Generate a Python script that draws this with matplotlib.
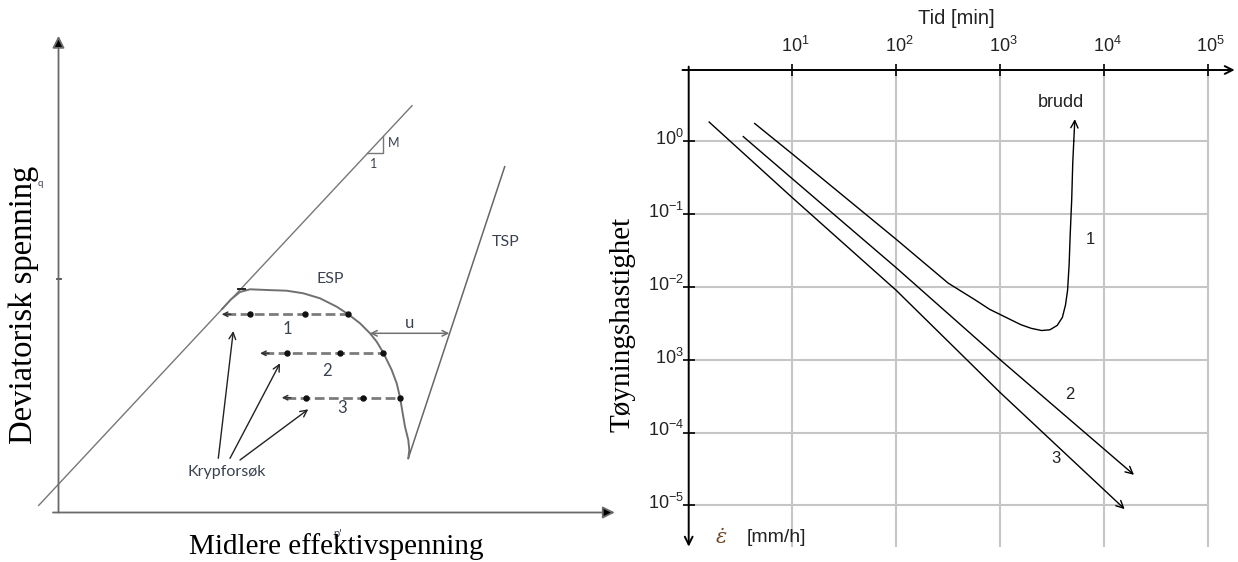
import numpy as np
import matplotlib
matplotlib.use('Agg')
import matplotlib.pyplot as plt
from matplotlib.transforms import blended_transform_factory

plt.rcParams['mathtext.default'] = 'regular'

W, H = 1238, 562

# ---------------- left panel data (schematic stress path, p' and q in arbitrary units)
p_axis_end = 556.3
q_axis_end = 476.7
csl_p = [-19.8, 353.5]
csl_q = [7.1, 406.8]
slope_tri_p = [308.3, 324.9, 324.9]
slope_tri_q = [359.1, 359.1, 376.3]
tsp_p = [349.8, 446.2]
tsp_q = [54.2, 345.8]
esp_p = [163.5, 172.5, 181.5, 191.5, 208.2, 228.2, 244.8, 261.5, 278.2, 289.8, 301.5,
         311.5, 318.2, 324.8, 333.2, 338.2, 341.5, 344.2, 346.5, 349.8, 350.8, 349.8]
esp_q = [203.4, 213.2, 220.5, 223.2, 222.5, 221.8, 219.2, 214.2, 205.8, 198.2, 189.2,
         179.2, 170.8, 159.8, 142.5, 129.2, 115.2, 99.2, 85.8, 72.5, 62.5, 54.2]
creep_q = [198.2, 159.2, 114.8]
creep_start_p = [163.2, 201.5, 223.2]
creep_dots_p = [[191.5, 246.5, 289.8], [228.8, 281.5, 324.8], [247.5, 304.8, 341.5]]
creep_labels = ['1', '2', '3']
creep_label_p = [228.8, 268.2, 283.8]
creep_label_q = [183.2, 141.8, 104.2]
u_q = 179.2
u_p = [311.5, 390.8]
kryp_from_p = [159.8, 171.5, 181.5]
kryp_from_q = [54.2, 54.2, 52.5]
kryp_to_p = [174.8, 221.5, 249.8]
kryp_to_q = [181.5, 149.2, 103.2]

# ---------------- right panel data (creep rate vs time)
time_decades = [10, 100, 1000, 10000, 100000]
time_labels = ['1', '2', '3', '4', '5']
rate_decades = [1, 1e-1, 1e-2, 1e-3, 1e-4, 1e-5]
rate_labels = ['0', '-1', '-2', '3', '-4', '-5']
log_t1 = [0.636, 1.0, 2.0, 2.5, 2.76, 2.9, 3.0, 3.1, 3.2, 3.3, 3.4, 3.48, 3.55, 3.6,
          3.63, 3.65, 3.665, 3.675, 3.69, 3.70, 3.71, 3.72]
log_r1 = [0.24, -0.18, -1.35, -1.95, -2.18, -2.31, -2.38, -2.45, -2.52, -2.57, -2.60,
          -2.59, -2.53, -2.42, -2.25, -2.05, -1.70, -1.30, -0.80, -0.30, 0.00, 0.30]
log_t2 = [0.526, 1.0, 2.0, 3.0, 4.29]
log_r2 = [0.06, -0.52, -1.74, -3.00, -4.58]
log_t3 = [0.197, 1.0, 2.0, 3.0, 4.20]
log_r3 = [0.26, -0.78, -2.05, -3.45, -5.05]

fig = plt.figure(figsize=(W / 100, H / 100), dpi=100)

# ================= LEFT PANEL =================
axL = fig.add_axes([0, 0, 619 / W, 1])
axL.set_xlim(-58.5, 560.5)
axL.set_ylim(-49.5, 512.5)
axL.axis('off')

axcol = '#6a6a6a'
axL.annotate('', xy=(0, q_axis_end), xytext=(0, 0),
             arrowprops=dict(arrowstyle='-|>', color=axcol, lw=1.3, mutation_scale=18,
                             fc='black', ec=axcol, shrinkA=0, shrinkB=0), annotation_clip=False)
axL.annotate('', xy=(p_axis_end, 0), xytext=(-5.5, 0),
             arrowprops=dict(arrowstyle='-|>', color=axcol, lw=1.3, mutation_scale=18,
                             fc='black', ec=axcol, shrinkA=0, shrinkB=0), annotation_clip=False)
axL.plot([-2, 2], [234, 234], color='#333333', lw=1.2)

axL.plot(csl_p, csl_q, color='#777777', lw=1.0)
axL.plot(slope_tri_p, slope_tri_q, color='#777777', lw=1.0)
axL.plot(tsp_p, tsp_q, color='#666666', lw=1.1)
axL.plot(esp_p, esp_q, color='#707070', lw=1.4)
axL.plot([179.5, 186.5], [223.4, 223.4], color='#222222', lw=1.4)

for q, s, dots in zip(creep_q, creep_start_p, creep_dots_p):
    axL.plot([s + 4, dots[-1]], [q, q], color='#7c7c7c', lw=2.0, dashes=(3.5, 1.6))
    axL.plot(dots, [q] * len(dots), 'o', color='#111111', ms=3.6)
    axL.annotate('', xy=(s, q), xytext=(s + 9, q),
                 arrowprops=dict(arrowstyle='->', color='#333333', lw=1.1,
                                 mutation_scale=8, shrinkA=0, shrinkB=0))

lfont = dict(family=['Lato', 'DejaVu Sans'], color='#3b4250')
for lab, p, q in zip(creep_labels, creep_label_p, creep_label_q):
    axL.text(p, q, lab, ha='center', va='center', fontsize=12, **lfont)

axL.annotate('', xy=(u_p[0], u_q), xytext=(u_p[1], u_q),
             arrowprops=dict(arrowstyle='<->', color='#707070', lw=1.1,
                             mutation_scale=10, shrinkA=0, shrinkB=0))
axL.text(351.5, 189.2, 'u', ha='center', va='center', fontsize=12, **lfont)
axL.text(272.2, 233.2, 'ESP', ha='center', va='center', fontsize=11.5, **lfont)
axL.text(447.5, 270.5, 'TSP', ha='center', va='center', fontsize=11.5, **lfont)
axL.text(334.8, 369.1, 'M', ha='center', va='center', fontsize=9, **lfont)
axL.text(315.0, 348.5, '1', ha='center', va='center', fontsize=9, **lfont)
axL.text(168.2, 40.8, 'Krypforsøk', ha='center', va='center', fontsize=11.5, **lfont)

for fp, fq, tp, tq in zip(kryp_from_p, kryp_from_q, kryp_to_p, kryp_to_q):
    axL.annotate('', xy=(tp, tq), xytext=(fp, fq),
                 arrowprops=dict(arrowstyle='->', color='#222222', lw=1.0,
                                 mutation_scale=12, shrinkA=0, shrinkB=0))

axL.text(-18.5, 329.2, 'q', ha='center', va='center', fontsize=7, **lfont)
axL.text(-34.5, 208, 'Deviatorisk spenning', rotation=90, ha='center', va='center',
         fontsize=23.5, family='Liberation Serif', color='black')
axL.text(278.8, -20.8, "p'", ha='center', va='center', fontsize=8, **lfont)
axL.text(278, -34.1, 'Midlere effektivspenning', ha='center', va='center',
         fontsize=21, family='Liberation Serif', color='black')

# ================= RIGHT PANEL =================
y_top, y_bot = 70, 549.2
axR = fig.add_axes([688.7 / W, (H - y_bot) / H, (1238 - 688.7) / W, (y_bot - y_top) / H])
axR.set_xscale('log')
axR.set_yscale('log')
axR.set_xlim(1, 10 ** 5.292)
axR.set_ylim(10 ** -5.6, 10 ** 0.974)
axR.axis('off')

gcol = '#c6c6c6'
for t in time_decades:
    axR.plot([t, t], [10 ** -5.55, 10 ** 0.974], color=gcol, lw=1.5, zorder=1, clip_on=False)
for r in rate_decades:
    axR.plot([1, 1e5], [r, r], color=gcol, lw=1.5, zorder=1, clip_on=False)

axR.annotate('', xy=(10 ** 5.26, 10 ** 0.974), xytext=(10 ** -0.06, 10 ** 0.974),
             arrowprops=dict(arrowstyle='->', color='black', lw=1.4, mutation_scale=14,
                             shrinkA=0, shrinkB=0), annotation_clip=False, zorder=3)
axR.annotate('', xy=(1, 10 ** -5.565), xytext=(1, 10 ** 1.02),
             arrowprops=dict(arrowstyle='->', color='black', lw=1.4, mutation_scale=14,
                             shrinkA=0, shrinkB=0), annotation_clip=False, zorder=3)
axR.plot(time_decades, [10 ** 0.974] * len(time_decades), '|', color='black', ms=8, mew=1.2, clip_on=False)
axR.plot([1] * len(rate_decades), rate_decades, '_', color='black', ms=8, mew=1.2, clip_on=False)

for lt, lr in [(log_t1, log_r1), (log_t2, log_r2), (log_t3, log_r3)]:
    t = 10 ** np.array(lt)
    r = 10 ** np.array(lr)
    axR.plot(t[:-1], r[:-1], color='black', lw=1.0, zorder=4)
    axR.annotate('', xy=(t[-1], r[-1]), xytext=(t[-2], r[-2]),
                 arrowprops=dict(arrowstyle='->', color='black', lw=1.0, mutation_scale=13,
                                 shrinkA=0, shrinkB=0), annotation_clip=False, zorder=4)

rfont = dict(family=['Liberation Sans', 'DejaVu Sans'], color='#222222')
trans_top = blended_transform_factory(axR.transData, fig.transFigure)
for t, lab in zip(time_decades, time_labels):
    axR.text(t * 10 ** 0.03, 1 - 46 / H, '$10^{%s}$' % lab, transform=trans_top,
             ha='center', va='center', fontsize=13, **rfont)
trans_left = blended_transform_factory(fig.transFigure, axR.transData)
for r, lab in zip(rate_decades, rate_labels):
    axR.text(684 / W, r * 10 ** 0.03, '$10^{%s}$' % lab, transform=trans_left,
             ha='right', va='center', fontsize=13, **rfont)

fig.text(956 / W, 1 - 19 / H, 'Tid [min]', ha='center', va='center', fontsize=14.5, **rfont)
axR.text(10 ** 3.59, 10 ** 0.53, 'brudd', ha='center', va='center', fontsize=13, **rfont)
axR.text(10 ** 3.87, 10 ** -1.35, '1', ha='center', va='center', fontsize=12, **rfont)
axR.text(10 ** 3.67, 10 ** -3.48, '2', ha='center', va='center', fontsize=12, **rfont)
axR.text(10 ** 3.54, 10 ** -4.36, '3', ha='center', va='center', fontsize=12, **rfont)
fig.text(721.7 / W, 1 - 538 / H, r'$\dot{\varepsilon}$', ha='center', va='center',
         fontsize=15, color='#6b4a2a', family='DejaVu Serif', style='italic')
fig.text(776 / W, 1 - 538 / H, '[mm/h]', ha='center', va='center', fontsize=14, **rfont)
fig.text(622 / W, 1 - 324 / H, 'Tøyningshastighet', rotation=90, ha='center', va='center',
         fontsize=21, family='Liberation Serif', color='black')

fig.savefig('out.png', dpi=100)
